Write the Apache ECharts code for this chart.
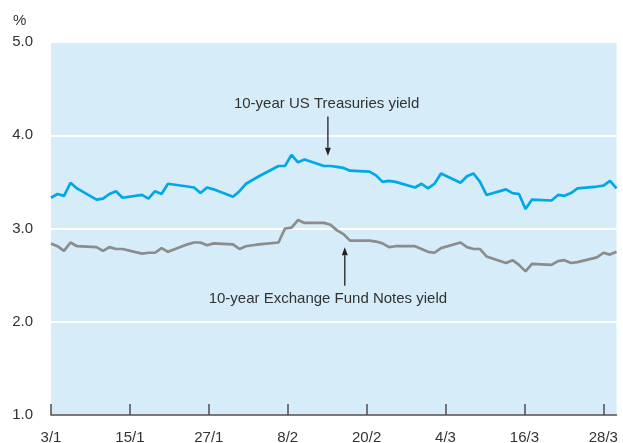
<!DOCTYPE html>
<html><head><meta charset="utf-8">
<script src="https://cdn.jsdelivr.net/npm/echarts@6/dist/echarts.min.js"></script>
<style>html,body{margin:0;padding:0;background:#fff}#c{width:623px;height:443px}</style>
</head><body><div id="c"></div>
<script>
// Trading dates (d/m, 2011)
const dates = ['3/1','4/1','5/1','6/1','7/1','10/1','11/1','12/1','13/1','14/1','17/1','18/1','19/1','20/1','21/1',
  '24/1','25/1','26/1','27/1','28/1','31/1','1/2','2/2','3/2','4/2','7/2','8/2','9/2','10/2','11/2',
  '14/2','15/2','16/2','17/2','18/2','21/2','22/2','23/2','24/2','25/2','28/2','1/3','2/3','3/3','4/3',
  '7/3','8/3','9/3','10/3','11/3','14/3','15/3','16/3','17/3','18/3','21/3','22/3','23/3','24/3','25/3',
  '28/3','29/3','30/3','31/3'];
// 10-year US Treasuries yield (%)
const usYield = [3.33,3.37,3.35,3.49,3.43,3.31,3.32,3.37,3.40,3.33,3.36,3.32,3.40,3.37,3.48,
  3.45,3.44,3.38,3.44,3.42,3.34,3.40,3.48,3.52,3.56,3.67,3.67,3.79,3.71,3.74,
  3.67,3.67,3.66,3.65,3.62,3.61,3.57,3.50,3.51,3.50,3.44,3.48,3.43,3.48,3.59,
  3.49,3.56,3.59,3.50,3.36,3.42,3.38,3.37,3.21,3.31,3.30,3.36,3.35,3.38,3.43,
  3.45,3.46,3.51,3.43];
// 10-year Exchange Fund Notes yield (%)
const efnYield = [2.84,2.81,2.76,2.85,2.81,2.80,2.76,2.80,2.78,2.78,2.73,2.74,2.74,2.79,2.75,
  2.83,2.85,2.85,2.82,2.84,2.83,2.78,2.81,2.82,2.83,2.85,3.00,3.01,3.09,3.06,
  3.06,3.04,2.98,2.94,2.87,2.87,2.86,2.84,2.80,2.81,2.81,2.78,2.75,2.74,2.79,
  2.85,2.80,2.78,2.78,2.70,2.63,2.66,2.61,2.54,2.62,2.61,2.65,2.66,2.63,2.64,
  2.69,2.74,2.72,2.75];
const tickLabels = ['3/1','15/1','27/1','8/2','20/2','4/3','16/3','28/3'];
const yMin = 1, yMax = 5, yStep = 1;
const usLabel = '10-year US Treasuries yield';
const efnLabel = '10-year Exchange Fund Notes yield';

const start = Date.UTC(2011, 0, 3);
function dayIndex(s) { const p = s.split('/').map(Number); return (Date.UTC(2011, p[1] - 1, p[0]) - start) / 86400000; }
const tickDays = tickLabels.map(dayIndex);
const labelByDay = {}; tickLabels.forEach((t, i) => labelByDay[tickDays[i]] = t);
const usData = dates.map((d, i) => [dayIndex(d), usYield[i]]);
const efnData = dates.map((d, i) => [dayIndex(d), efnYield[i]]);
const lastDay = dayIndex(dates[dates.length - 1]);

const FONT = 'Liberation Sans, Arial, Helvetica, sans-serif';
const chart = echarts.init(document.getElementById('c'), null, { renderer: 'canvas' });
chart.setOption({
  animation: false,
  backgroundColor: '#ffffff',
  grid: { left: 51, right: 6.5, top: 42, bottom: 28, show: true, backgroundColor: '#d6ecf8', borderWidth: 0, outerBoundsMode: 'none', containLabel: false },
  xAxis: [
    { type: 'value', min: 0, max: lastDay, show: false },
    { type: 'value', min: 0, max: dayIndex('30/3'), position: 'bottom',
      axisLine: { show: true, lineStyle: { color: '#4d4d4d', width: 1.5 } },
      axisTick: { show: true, inside: true, length: 11, customValues: tickDays, lineStyle: { color: '#4d4d4d', width: 1.5 } },
      axisLabel: { customValues: tickDays, formatter: v => labelByDay[v] || '', fontSize: 15, color: '#333', margin: 15, fontFamily: FONT },
      splitLine: { show: false } }
  ],
  yAxis: {
    type: 'value', min: yMin, max: yMax, interval: yStep,
    axisLine: { show: false }, axisTick: { show: false },
    axisLabel: { formatter: v => v.toFixed(1), fontSize: 15, color: '#333', margin: 18, fontFamily: FONT, padding: [3, 0, 0, 0] },
    splitLine: { show: true, lineStyle: { color: '#ffffff', width: 2 } }
  },
  series: [
    { name: usLabel, type: 'line', xAxisIndex: 0, data: usData, showSymbol: false, lineStyle: { color: '#00a8e8', width: 2.7 }, z: 3 },
    { name: efnLabel, type: 'line', xAxisIndex: 0, data: efnData, showSymbol: false, lineStyle: { color: '#8c8c8c', width: 2.7 }, z: 2 }
  ]
});

function px(d, v) { return chart.convertToPixel({ xAxisIndex: 0, yAxisIndex: 0 }, [d, v]); }
function arrow(d, vFrom, vTo) {
  const a = px(d, vFrom), b = px(d, vTo);
  const dir = b[1] > a[1] ? 1 : -1;
  const headLen = 8, headHalf = 3;
  return [
    { type: 'line', shape: { x1: a[0], y1: a[1], x2: b[0], y2: b[1] - dir * headLen }, style: { stroke: '#222', lineWidth: 1.3 }, z: 10 },
    { type: 'polygon', shape: { points: [[b[0] - headHalf, b[1] - dir * headLen], [b[0] + headHalf, b[1] - dir * headLen], [b[0], b[1]]] }, style: { fill: '#222' }, z: 10 }
  ];
}
function label(text, d, v) {
  const p = px(d, v);
  return { type: 'text', x: p[0], y: p[1], style: { text: text, align: 'center', verticalAlign: 'middle', font: '15px ' + FONT, fill: '#333' }, z: 10 };
}
chart.setOption({
  graphic: [
    { type: 'text', left: 13, top: 13, style: { text: '%', font: '15px ' + FONT, fill: '#333' } },
    label(usLabel, 42.4, 4.335),
    ...arrow(42.6, 4.20, 3.78),
    label(efnLabel, 42.6, 2.246),
    ...arrow(45.2, 2.385, 2.80)
  ]
});
</script></body></html>
